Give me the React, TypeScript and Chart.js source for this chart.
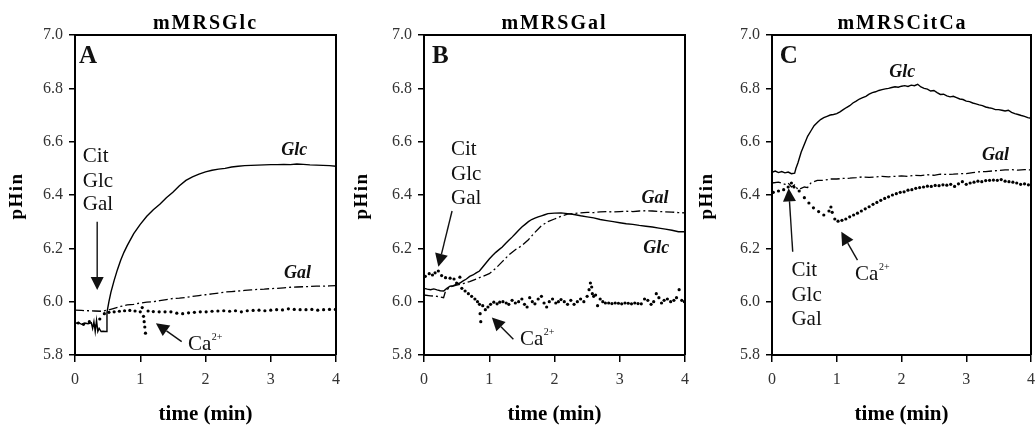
import React, { useEffect, useRef } from "react";
import { Chart, registerables } from "chart.js";

Chart.register(...registerables);

const SERIF = '"Liberation Serif", "Times New Roman", Times, serif';

// ---------- axes ----------
const xTicks = [0, 1, 2, 3, 4];
const yTicks = [5.8, 6.0, 6.2, 6.4, 6.6, 6.8, 7.0];

// ---------- Panel A : mMRSGlc ----------
const glcA_t = [0, 0.05, 0.1, 0.15, 0.2, 0.25, 0.27, 0.29, 0.31, 0.33, 0.35, 0.37, 0.4, 0.43, 0.46, 0.48, 0.49, 0.52, 0.55, 0.6, 0.65, 0.7, 0.75, 0.8, 0.9, 1.0, 1.1, 1.2, 1.3, 1.4, 1.5, 1.6, 1.7, 1.8, 1.9, 2.0, 2.1, 2.2, 2.3, 2.4, 2.5, 2.6, 2.7, 2.8, 2.9, 3.0, 3.1, 3.2, 3.3, 3.4, 3.5, 3.6, 3.7, 3.8, 3.9, 4.0];
const glcA = [5.918, 5.922, 5.915, 5.92, 5.917, 5.921, 5.9, 5.925, 5.888, 5.93, 5.888, 5.9, 5.888, 5.889, 5.888, 5.888, 5.96, 6.0, 6.035, 6.08, 6.12, 6.155, 6.185, 6.21, 6.255, 6.29, 6.32, 6.345, 6.365, 6.39, 6.41, 6.435, 6.455, 6.468, 6.478, 6.487, 6.493, 6.497, 6.5, 6.505, 6.508, 6.51, 6.511, 6.512, 6.513, 6.514, 6.514, 6.515, 6.514, 6.516, 6.515, 6.513, 6.512, 6.511, 6.51, 6.508];
const galA_t = [0, 0.1, 0.2, 0.3, 0.4, 0.5, 0.6, 0.7, 0.8, 0.9, 1.0, 1.1, 1.2, 1.3, 1.4, 1.5, 1.6, 1.7, 1.8, 1.9, 2.0, 2.1, 2.2, 2.3, 2.4, 2.5, 2.6, 2.7, 2.8, 2.9, 3.0, 3.1, 3.2, 3.3, 3.4, 3.5, 3.6, 3.7, 3.8, 3.9, 4.0];
const galA = [5.968, 5.967, 5.966, 5.965, 5.964, 5.968, 5.975, 5.982, 5.988, 5.99, 5.995, 5.998, 6.0, 6.004, 6.008, 6.012, 6.013, 6.016, 6.02, 6.023, 6.026, 6.029, 6.032, 6.036, 6.038, 6.04, 6.042, 6.044, 6.046, 6.047, 6.049, 6.05, 6.052, 6.054, 6.055, 6.056, 6.057, 6.058, 6.058, 6.059, 6.06];
const caA_t = [0.05, 0.13, 0.22, 0.3, 0.38, 0.45, 0.52, 0.6, 0.68, 0.76, 0.84, 0.92, 1.0, 1.03, 1.05, 1.06, 1.07, 1.08, 1.12, 1.2, 1.29, 1.38, 1.47, 1.56, 1.65, 1.74, 1.83, 1.92, 2.01, 2.1, 2.19, 2.28, 2.37, 2.46, 2.55, 2.64, 2.73, 2.82, 2.91, 3.0, 3.09, 3.18, 3.27, 3.36, 3.45, 3.54, 3.63, 3.72, 3.81, 3.9, 3.99];
const caA = [5.92, 5.915, 5.925, 5.91, 5.935, 5.955, 5.96, 5.962, 5.964, 5.966, 5.967, 5.965, 5.962, 5.978, 5.945, 5.925, 5.905, 5.882, 5.965, 5.963, 5.962, 5.962, 5.962, 5.957, 5.955, 5.958, 5.96, 5.962, 5.962, 5.964, 5.965, 5.966, 5.964, 5.966, 5.962, 5.966, 5.967, 5.968, 5.966, 5.968, 5.97, 5.969, 5.973, 5.971, 5.97, 5.97, 5.971, 5.968, 5.97, 5.971, 5.971];

// ---------- Panel B : mMRSGal ----------
const glcB_t = [0, 0.05, 0.1, 0.15, 0.2, 0.25, 0.3, 0.35, 0.4, 0.45, 0.5, 0.55, 0.6, 0.65, 0.7, 0.75, 0.8, 0.85, 0.9, 0.95, 1.0, 1.05, 1.1, 1.15, 1.2, 1.25, 1.3, 1.35, 1.4, 1.45, 1.5, 1.55, 1.6, 1.65, 1.7, 1.75, 1.8, 1.85, 1.9, 1.95, 2.0, 2.1, 2.2, 2.3, 2.4, 2.5, 2.6, 2.7, 2.8, 2.9, 3.0, 3.1, 3.2, 3.3, 3.4, 3.5, 3.6, 3.7, 3.8, 3.9, 4.0];
const glcB = [6.05, 6.047, 6.045, 6.048, 6.044, 6.041, 6.04, 6.05, 6.058, 6.06, 6.066, 6.07, 6.078, 6.085, 6.095, 6.1, 6.108, 6.115, 6.13, 6.145, 6.16, 6.173, 6.185, 6.195, 6.205, 6.218, 6.23, 6.242, 6.255, 6.268, 6.28, 6.29, 6.3, 6.308, 6.313, 6.318, 6.322, 6.326, 6.33, 6.331, 6.332, 6.333, 6.33, 6.327, 6.322, 6.318, 6.314, 6.308, 6.304, 6.3, 6.296, 6.292, 6.29, 6.286, 6.283, 6.28, 6.276, 6.272, 6.268, 6.262, 6.262];
const galB_t = [0, 0.1, 0.2, 0.3, 0.33, 0.4, 0.5, 0.6, 0.7, 0.8, 0.9, 1.0, 1.1, 1.2, 1.3, 1.4, 1.5, 1.6, 1.7, 1.8, 1.9, 2.0, 2.1, 2.2, 2.3, 2.4, 2.5, 2.6, 2.7, 2.8, 2.9, 3.0, 3.1, 3.2, 3.3, 3.4, 3.5, 3.6, 3.7, 3.8, 3.9, 4.0];
const galB = [6.025, 6.022, 6.02, 6.015, 6.04, 6.055, 6.062, 6.068, 6.075, 6.085, 6.095, 6.105, 6.125, 6.15, 6.175, 6.195, 6.21, 6.232, 6.26, 6.285, 6.3, 6.31, 6.32, 6.328, 6.331, 6.333, 6.335, 6.334, 6.337, 6.338, 6.336, 6.338, 6.339, 6.338, 6.34, 6.341, 6.34, 6.338, 6.337, 6.336, 6.334, 6.333];
const caB_t = [0.02, 0.08, 0.13, 0.17, 0.22, 0.27, 0.33, 0.4, 0.46, 0.5, 0.55, 0.58, 0.63, 0.68, 0.73, 0.78, 0.82, 0.85, 0.86, 0.87, 0.9, 0.94, 0.98, 1.02, 1.07, 1.12, 1.16, 1.21, 1.26, 1.3, 1.35, 1.4, 1.45, 1.5, 1.54, 1.58, 1.62, 1.66, 1.7, 1.75, 1.8, 1.84, 1.88, 1.92, 1.97, 2.02, 2.06, 2.1, 2.15, 2.2, 2.25, 2.3, 2.35, 2.4, 2.45, 2.5, 2.53, 2.55, 2.57, 2.58, 2.6, 2.63, 2.66, 2.7, 2.74, 2.78, 2.83, 2.88, 2.93, 2.98, 3.03, 3.08, 3.13, 3.18, 3.23, 3.28, 3.33, 3.38, 3.43, 3.48, 3.52, 3.56, 3.6, 3.64, 3.68, 3.73, 3.78, 3.83, 3.87, 3.91, 3.95, 3.99];
const caB = [6.095, 6.105, 6.1, 6.108, 6.115, 6.098, 6.09, 6.088, 6.085, 6.07, 6.092, 6.05, 6.04, 6.03, 6.02, 6.01, 6.0, 5.99, 5.955, 5.925, 5.985, 5.97, 5.98, 5.99, 5.998, 5.992, 5.998, 6.0, 5.995, 5.99, 6.005, 5.995, 6.0, 6.01, 5.99, 5.98, 6.015, 6.0, 5.992, 6.01, 6.02, 5.995, 5.98, 6.0, 6.01, 5.995, 6.0, 6.008, 6.0, 5.99, 6.005, 5.99, 6.0, 6.01, 6.0, 6.02, 6.045, 6.07, 6.055, 6.03, 6.02, 6.025, 5.985, 6.01, 6.0, 5.995, 5.995, 5.993, 5.995, 5.994, 5.992, 5.995, 5.994, 5.992, 5.995, 5.993, 5.992, 6.01, 6.005, 5.99, 6.0, 6.03, 6.015, 5.995, 6.005, 6.01, 6.0, 6.005, 6.015, 6.045, 6.005, 6.0];

// ---------- Panel C : mMRSCitCa ----------
const glcC_t = [0, 0.05, 0.1, 0.15, 0.2, 0.25, 0.3, 0.35, 0.37, 0.4, 0.45, 0.5, 0.55, 0.6, 0.65, 0.7, 0.75, 0.8, 0.85, 0.9, 0.95, 1.0, 1.05, 1.1, 1.15, 1.2, 1.25, 1.3, 1.35, 1.4, 1.45, 1.5, 1.55, 1.6, 1.65, 1.7, 1.75, 1.8, 1.85, 1.9, 1.95, 2.0, 2.05, 2.1, 2.15, 2.2, 2.25, 2.3, 2.35, 2.4, 2.45, 2.5, 2.55, 2.6, 2.65, 2.7, 2.75, 2.8, 2.85, 2.9, 2.95, 3.0, 3.05, 3.1, 3.15, 3.2, 3.25, 3.3, 3.35, 3.4, 3.45, 3.5, 3.55, 3.6, 3.65, 3.7, 3.75, 3.8, 3.85, 3.9, 3.95, 4.0];
const glcC = [6.485, 6.49, 6.484, 6.488, 6.483, 6.486, 6.48, 6.482, 6.5, 6.52, 6.56, 6.59, 6.62, 6.64, 6.66, 6.672, 6.683, 6.69, 6.695, 6.7, 6.702, 6.705, 6.712, 6.72, 6.728, 6.735, 6.745, 6.752, 6.76, 6.765, 6.77, 6.778, 6.784, 6.787, 6.792, 6.795, 6.798, 6.8, 6.803, 6.806, 6.804, 6.808, 6.81, 6.807, 6.812, 6.81, 6.815, 6.805, 6.8, 6.797, 6.79, 6.792, 6.784, 6.777, 6.778, 6.772, 6.768, 6.77, 6.765, 6.76, 6.758, 6.752, 6.75, 6.745, 6.742, 6.738, 6.735, 6.73, 6.727, 6.725, 6.72, 6.72, 6.718, 6.715, 6.718, 6.71, 6.705, 6.702, 6.698, 6.695, 6.69, 6.688];
const galC_t = [0, 0.1, 0.2, 0.25, 0.3, 0.35, 0.4, 0.45, 0.5, 0.55, 0.6, 0.65, 0.7, 0.8, 0.9, 1.0, 1.1, 1.2, 1.3, 1.4, 1.5, 1.6, 1.7, 1.8, 1.9, 2.0, 2.1, 2.2, 2.3, 2.4, 2.5, 2.6, 2.7, 2.8, 2.9, 3.0, 3.1, 3.2, 3.3, 3.4, 3.5, 3.6, 3.7, 3.8, 3.9, 4.0];
const galC = [6.445, 6.448, 6.44, 6.445, 6.43, 6.438, 6.42, 6.425, 6.43, 6.428, 6.445, 6.45, 6.455, 6.455, 6.46, 6.46, 6.462, 6.463, 6.465, 6.468, 6.466, 6.468, 6.47, 6.468, 6.47, 6.472, 6.47, 6.474, 6.473, 6.476, 6.474, 6.478, 6.477, 6.478, 6.48, 6.48, 6.484, 6.487, 6.488, 6.49, 6.492, 6.494, 6.495, 6.493, 6.495, 6.494];
const caC_t = [0.02, 0.1, 0.18, 0.25, 0.3, 0.34, 0.42, 0.5, 0.57, 0.64, 0.72, 0.8, 0.88, 0.91, 0.93, 0.97, 1.02, 1.08, 1.14, 1.2, 1.26, 1.32, 1.38, 1.44, 1.5, 1.56, 1.62, 1.68, 1.74, 1.8, 1.86, 1.92, 1.98, 2.04, 2.1, 2.16, 2.22, 2.28, 2.34, 2.4, 2.46, 2.52, 2.58, 2.64, 2.7, 2.76, 2.82, 2.88, 2.94, 3.0, 3.06, 3.12, 3.18, 3.24, 3.3, 3.36, 3.42, 3.48, 3.54, 3.6, 3.66, 3.72, 3.78, 3.84, 3.9, 3.96];
const caC = [6.41, 6.415, 6.42, 6.43, 6.445, 6.43, 6.415, 6.39, 6.37, 6.352, 6.338, 6.325, 6.34, 6.355, 6.335, 6.31, 6.302, 6.305, 6.31, 6.318, 6.325, 6.332, 6.34, 6.348, 6.356, 6.365, 6.372, 6.38, 6.387, 6.393, 6.4, 6.405, 6.41, 6.412, 6.418, 6.42, 6.425, 6.428, 6.43, 6.433, 6.432, 6.436, 6.435, 6.438, 6.437, 6.44, 6.432, 6.442, 6.45, 6.44, 6.445, 6.448, 6.452, 6.45, 6.454, 6.455, 6.456, 6.455, 6.458, 6.452, 6.45, 6.448, 6.445, 6.44, 6.442, 6.438];

// ---------- helpers ----------
const pts = (t: number[], v: number[]) => t.map((x, i) => ({ x, y: v[i] }));
const solid = (t: number[], v: number[]) => ({ data: pts(t, v), showLine: true, pointRadius: 0, borderColor: "#000", borderWidth: 1.4, tension: 0, fill: false });
const dashDot = (t: number[], v: number[]) => ({ data: pts(t, v), showLine: true, pointRadius: 0, borderColor: "#000", borderWidth: 1.3, borderDash: [9, 3, 2, 3], tension: 0, fill: false });
const dots = (t: number[], v: number[]) => ({ data: pts(t, v), showLine: false, pointRadius: 1.6, pointBorderWidth: 0, pointBackgroundColor: "#000", borderColor: "#000" });

const F_LETTER = `bold 25px ${SERIF}`;
const F_NOTE = `21px ${SERIF}`;
const F_CURVE = `italic bold 18px ${SERIF}`;

const panels = [
  {
    title: "mMRSGlc", left: 0, yWidth: 75, rightPad: 9,
    datasets: [solid(glcA_t, glcA), dashDot(galA_t, galA), dots(caA_t, caA)],
    notes: [
      { text: "A", t: 0.06, v: 6.895, font: F_LETTER },
      { text: "Cit", t: 0.12, v: 6.524, font: F_NOTE },
      { text: "Glc", t: 0.12, v: 6.43, font: F_NOTE },
      { text: "Gal", t: 0.12, v: 6.344, font: F_NOTE },
      { arrow: [0.34, 6.3, 0.34, 6.044] },
      { text: "Glc", t: 3.36, v: 6.55, font: F_CURVE, align: "center" },
      { text: "Gal", t: 3.41, v: 6.089, font: F_CURVE, align: "center" },
      { arrow: [1.635, 5.85, 1.24, 5.919] },
      { text: "Ca", sup: "2+", t: 1.73, v: 5.819, font: F_NOTE },
    ],
  },
  {
    title: "mMRSGal", left: 345, yWidth: 79, rightPad: 5,
    datasets: [solid(glcB_t, glcB), dashDot(galB_t, galB), dots(caB_t, caB)],
    notes: [
      { text: "B", t: 0.123, v: 6.895, font: F_LETTER },
      { text: "Cit", t: 0.414, v: 6.55, font: F_NOTE },
      { text: "Glc", t: 0.414, v: 6.456, font: F_NOTE },
      { text: "Gal", t: 0.414, v: 6.366, font: F_NOTE },
      { arrow: [0.43, 6.34, 0.22, 6.131] },
      { text: "Gal", t: 3.54, v: 6.37, font: F_CURVE, align: "center" },
      { text: "Glc", t: 3.56, v: 6.182, font: F_CURVE, align: "center" },
      { arrow: [1.37, 5.859, 1.04, 5.941] },
      { text: "Ca", sup: "2+", t: 1.471, v: 5.837, font: F_NOTE },
    ],
  },
  {
    title: "mMRSCitCa", left: 690, yWidth: 82, rightPad: 2,
    datasets: [solid(glcC_t, glcC), dashDot(galC_t, galC), dots(caC_t, caC)],
    notes: [
      { text: "C", t: 0.118, v: 6.895, font: F_LETTER },
      { text: "Cit", t: 0.3, v: 6.096, font: F_NOTE },
      { text: "Glc", t: 0.3, v: 6.002, font: F_NOTE },
      { text: "Gal", t: 0.3, v: 5.912, font: F_NOTE },
      { arrow: [0.32, 6.187, 0.257, 6.425] },
      { text: "Glc", t: 2.01, v: 6.842, font: F_CURVE, align: "center" },
      { text: "Gal", t: 3.45, v: 6.531, font: F_CURVE, align: "center" },
      { arrow: [1.32, 6.156, 1.07, 6.262] },
      { text: "Ca", sup: "2+", t: 1.283, v: 6.081, font: F_NOTE },
    ],
  },
];

const W = 345;
const H = 427;
const TOP = 35;
const XAXIS_H = 72;

function drawArrow(ctx: CanvasRenderingContext2D, x1: number, y1: number, x2: number, y2: number) {
  const ang = Math.atan2(y2 - y1, x2 - x1);
  const L = 13;
  const hw = 6.5;
  const bx = x2 - L * Math.cos(ang);
  const by = y2 - L * Math.sin(ang);
  ctx.beginPath();
  ctx.moveTo(x1, y1);
  ctx.lineTo(bx, by);
  ctx.stroke();
  ctx.beginPath();
  ctx.moveTo(x2, y2);
  ctx.lineTo(bx + hw * Math.sin(ang), by - hw * Math.cos(ang));
  ctx.lineTo(bx - hw * Math.sin(ang), by + hw * Math.cos(ang));
  ctx.closePath();
  ctx.fill();
}

function Panel({ p }: { p: any }) {
  const ref = useRef<HTMLCanvasElement | null>(null);
  useEffect(() => {
    const notesPlugin = {
      id: "notes",
      afterDraw(chart: any) {
        const { ctx, chartArea: a } = chart;
        const sx = chart.scales.x;
        const sy = chart.scales.y;
        ctx.save();
        ctx.strokeStyle = "#000";
        ctx.lineWidth = 2;
        ctx.beginPath();
        ctx.moveTo(a.left, a.top);
        ctx.lineTo(a.right, a.top);
        ctx.lineTo(a.right, a.bottom);
        ctx.stroke();
        ctx.fillStyle = "#111";
        ctx.strokeStyle = "#111";
        ctx.lineWidth = 1.4;
        for (const n of p.notes) {
          if (n.arrow) {
            const [t1, v1, t2, v2] = n.arrow;
            drawArrow(ctx, sx.getPixelForValue(t1), sy.getPixelForValue(v1), sx.getPixelForValue(t2), sy.getPixelForValue(v2));
          } else {
            ctx.font = n.font;
            ctx.textAlign = n.align || "left";
            ctx.textBaseline = "alphabetic";
            const px = sx.getPixelForValue(n.t);
            const py = sy.getPixelForValue(n.v);
            ctx.fillText(n.text, px, py);
            if (n.sup) {
              const w = ctx.measureText(n.text).width;
              ctx.font = `10px ${SERIF}`;
              ctx.textAlign = "left";
              ctx.fillText(n.sup, px + w + 0.5, py - 10);
            }
          }
        }
        ctx.restore();
      },
    };
    const tickFont = { family: SERIF, size: 16 };
    const chart = new Chart(ref.current as HTMLCanvasElement, {
      type: "scatter",
      data: { datasets: p.datasets },
      options: {
        responsive: false,
        animation: false,
        events: [],
        layout: { padding: { left: 0, right: p.rightPad, top: TOP, bottom: 0 } },
        plugins: { legend: { display: false }, tooltip: { enabled: false }, title: { display: false } },
        scales: {
          x: {
            type: "linear",
            min: 0,
            max: 4,
            afterBuildTicks: (s: any) => { s.ticks = xTicks.map((v) => ({ value: v })); },
            afterFit: (s: any) => { s.height = XAXIS_H; s.paddingLeft = 0; s.paddingRight = 0; },
            ticks: { font: tickFont, color: "#333", padding: 8, maxRotation: 0, callback: (v: any) => String(v) },
            grid: { drawOnChartArea: false, drawTicks: true, tickLength: 7, color: "#000", lineWidth: 1.5 },
            border: { display: true, color: "#000", width: 2 },
            title: { display: true, text: "time (min)", color: "#000", font: { family: SERIF, size: 21, weight: "bold" }, padding: { top: 0, bottom: 0 } },
          },
          y: {
            type: "linear",
            min: 5.8,
            max: 7.0,
            afterBuildTicks: (s: any) => { s.ticks = yTicks.map((v) => ({ value: v })); },
            afterFit: (s: any) => { s.width = p.yWidth; s.paddingTop = 0; s.paddingBottom = 0; },
            ticks: { font: tickFont, color: "#333", padding: 6, callback: (v: any) => Number(v).toFixed(1) },
            grid: { drawOnChartArea: false, drawTicks: true, tickLength: 6, color: "#000", lineWidth: 1.5 },
            border: { display: true, color: "#000", width: 2 },
          },
        },
      },
      plugins: [notesPlugin],
    } as any);
    return () => chart.destroy();
  }, []);
  const cx = p.left + (p.yWidth + (W - p.rightPad)) / 2;
  return (
    <>
      <canvas ref={ref} width={W} height={H} style={{ position: "absolute", left: p.left, top: 0, width: W, height: H }} />
      <div
        style={{
          position: "absolute", left: cx - 100, top: 11, width: 200, textAlign: "center",
          font: `bold 20px ${SERIF}`, letterSpacing: "2px", lineHeight: "22px", whiteSpace: "nowrap", color: "#000",
        }}
      >
        {p.title}
      </div>
      <div
        style={{
          position: "absolute", left: p.left + 16 - 50, top: 196 - 11, width: 100, height: 22, lineHeight: "22px",
          textAlign: "center", transform: "rotate(-90deg)", font: `bold 19px ${SERIF}`, letterSpacing: "1.5px",
          whiteSpace: "nowrap", color: "#000",
        }}
      >
        pHin
      </div>
    </>
  );
}

export default function App() {
  return (
    <div style={{ position: "absolute", left: 0, top: 0, width: 1035, height: 427, background: "#fff", overflow: "hidden" }}>
      {panels.map((p) => (
        <Panel key={p.title} p={p} />
      ))}
    </div>
  );
}
